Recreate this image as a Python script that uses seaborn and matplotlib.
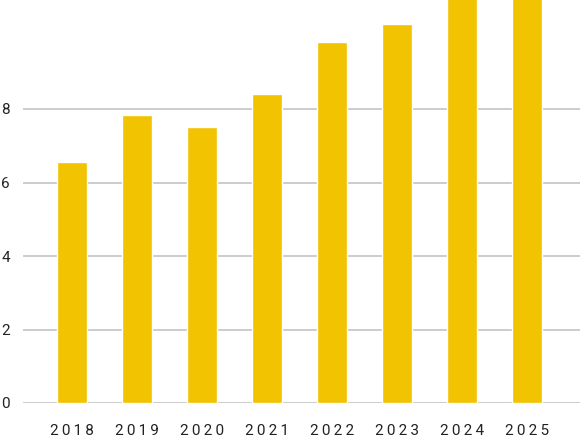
import matplotlib
matplotlib.use('Agg')
import matplotlib.pyplot as plt
import seaborn as sns
import pandas as pd

# values (last two bars run past the top edge)
YEARS  = ['2018', '2019', '2020', '2021', '2022', '2023', '2024', '2025']
VALUES = [6.56, 7.84, 7.51, 8.41, 9.82, 10.31, 11.6, 11.9]
YTICKS = [0, 2, 4, 6, 8]

BAR_COLOR  = '#F2C300'
GRID_COLOR = '#CCCCCC'
TEXT_COLOR = '#222222'

sns.set_style('white')
plt.rcParams['font.family'] = ['Roboto', 'DejaVu Sans']

df = pd.DataFrame({'year': YEARS, 'value': VALUES})

fig = plt.figure(figsize=(5.8, 4.38), dpi=100)
ax = fig.add_axes([23 / 580, 35 / 438, 557 / 580, 403 / 438])

sns.barplot(data=df, x='year', y='value', color=BAR_COLOR, width=0.46,
            saturation=1, ax=ax, zorder=3)

ax.set_xlim(-0.754, 7.815)
ax.set_ylim(0, 403 / 36.75)
ax.set_yticks(YTICKS)
ax.yaxis.grid(True, color=GRID_COLOR, linewidth=1.4, zorder=0)
ax.set_axisbelow(True)

# letter-spaced year labels
spaced = ['\u2009'.join(y) for y in YEARS]
ax.set_xticks(range(len(YEARS)))
ax.set_xticklabels(spaced)
ax.tick_params(axis='x', length=0, pad=15, labelsize=11, labelcolor=TEXT_COLOR)
ax.tick_params(axis='y', length=0, pad=9.5, labelsize=11, labelcolor=TEXT_COLOR)

ax.set_xlabel('')
ax.set_ylabel('')
sns.despine(ax=ax, left=True, bottom=True, top=True, right=True)

fig.savefig('out.png', dpi=100)
